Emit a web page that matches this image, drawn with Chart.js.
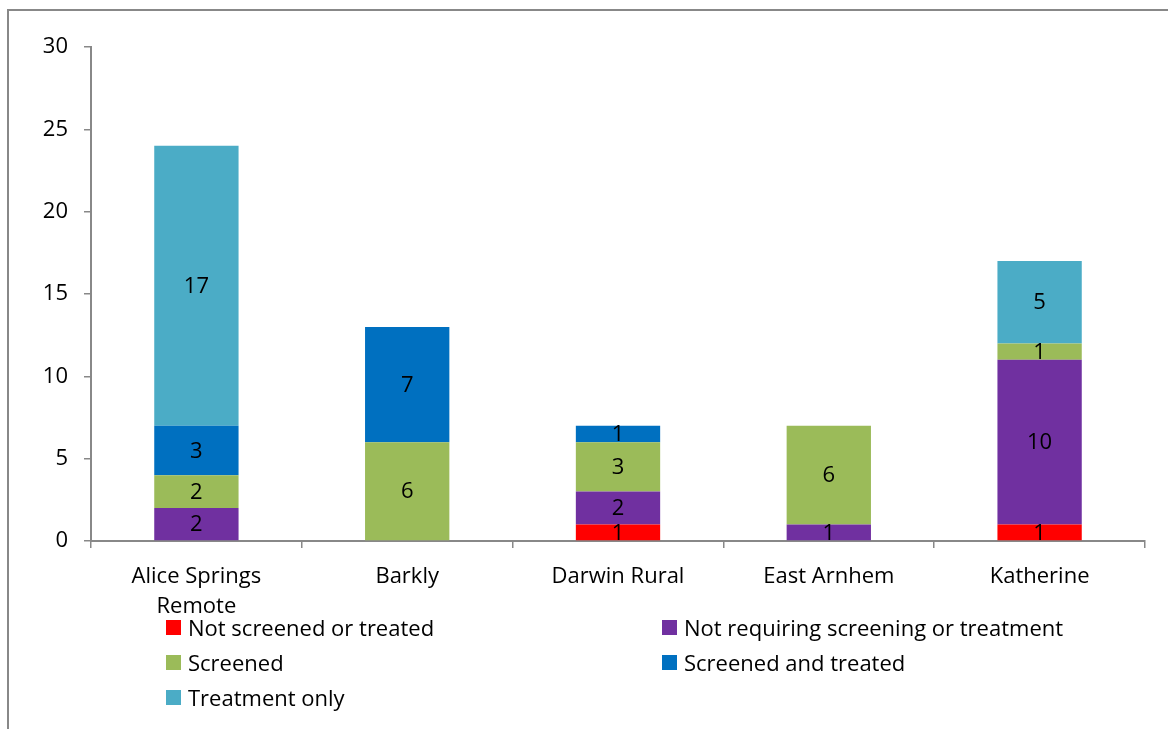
<!DOCTYPE html>
<html>
<head>
<meta charset="utf-8">
<script src="https://cdn.jsdelivr.net/npm/chart.js@4/dist/chart.umd.min.js"></script>
<style>
  html, body { margin: 0; padding: 0; background: #fff; }
  #wrap { position: relative; width: 1168px; height: 729px; }
  #legend { position: absolute; left: 166px; top: 610px; display: grid;
            grid-template-columns: 496px 470px; row-gap: 1px;
            font-family: "Open Sans", sans-serif; font-size: 22px; color: #000; }
  #legend div { display: flex; align-items: center; height: 34px; white-space: nowrap; }
  #legend span.box { width: 15px; height: 15px; margin-right: 7px; display: inline-block; }
</style>
</head>
<body>
<div id="wrap">
  <canvas id="chart" width="1168" height="729"></canvas>
  <div id="legend"></div>
</div>
<script>
const categories = [['Alice Springs', 'Remote'], 'Barkly', 'Darwin Rural', 'East Arnhem', 'Katherine'];

const notScreenedOrTreated = [0, 0, 1, 0, 1];
const notRequiring = [2, 0, 2, 1, 10];
const screened = [2, 6, 3, 6, 1];
const screenedAndTreated = [3, 7, 1, 0, 0];
const treatmentOnly = [17, 0, 0, 0, 5];

const yTicks = [0, 5, 10, 15, 20, 25, 30];

const FONT = '"Open Sans", sans-serif';

// draws the value in the middle of each segment, skipping zeros
const segmentLabels = {
    id: 'segmentLabels',
    afterDatasetsDraw(chart) {
        const ctx = chart.ctx;
        ctx.save();
        ctx.font = '22px ' + FONT;
        ctx.fillStyle = '#000';
        ctx.textAlign = 'center';
        ctx.textBaseline = 'middle';
        chart.data.datasets.forEach((ds, i) => {
            const meta = chart.getDatasetMeta(i);
            meta.data.forEach((bar, j) => {
                const v = ds.data[j];
                if (!v) return;
                const p = bar.getProps(['x', 'y', 'base'], true);
                ctx.fillText(String(v), p.x, (p.y + p.base) / 2 + 1);
            });
        });
        ctx.restore();
    }
};

// outer frame of the chart object (only top and left edges are visible)
const frame = {
    id: 'frame',
    beforeDraw(chart) {
        const ctx = chart.ctx;
        ctx.save();
        ctx.strokeStyle = '#888';
        ctx.lineWidth = 2;
        ctx.beginPath();
        ctx.moveTo(8, 740);
        ctx.lineTo(8, 10);
        ctx.lineTo(1180, 10);
        ctx.stroke();
        ctx.restore();
    }
};

const ctx = document.getElementById('chart').getContext('2d');
const chart = new Chart(ctx, {
    type: 'bar',
    data: {
        labels: categories,
        datasets: [
            { label: 'Not screened or treated', data: notScreenedOrTreated, backgroundColor: '#FF0000' },
            { label: 'Not requiring screening or treatment', data: notRequiring, backgroundColor: '#7030A0' },
            { label: 'Screened', data: screened, backgroundColor: '#9BBB59' },
            { label: 'Screened and treated', data: screenedAndTreated, backgroundColor: '#0070C0' },
            { label: 'Treatment only', data: treatmentOnly, backgroundColor: '#4BACC6' },
        ],
    },
    options: {
        responsive: false,
        animation: false,
        barPercentage: 0.4,
        categoryPercentage: 1,
        layout: { padding: { top: 47, right: 23, bottom: 0, left: 0 } },
        plugins: {
            legend: { display: false },
            tooltip: { enabled: false },
        },
        scales: {
            x: {
                stacked: true,
                afterFit(scale) { scale.height = 188; },
                grid: { display: true, drawOnChartArea: false, offset: true, tickLength: 7, color: '#888', lineWidth: 1.5 },
                border: { color: '#888', width: 2 },
                ticks: { color: '#000', font: { family: FONT, size: 22, lineHeight: 1.36 }, padding: 14, maxRotation: 0 },
            },
            y: {
                stacked: true,
                min: 0,
                max: 30,
                afterFit(scale) { scale.width = 91; },
                afterBuildTicks(scale) { scale.ticks = yTicks.map(v => ({ value: v })); },
                grid: { display: true, drawOnChartArea: false, tickLength: 7, color: '#888', lineWidth: 1.5 },
                border: { color: '#888', width: 2 },
                ticks: { color: '#000', font: { family: FONT, size: 22 }, padding: 16 },
            },
        },
    },
    plugins: [segmentLabels, frame],
});

// legend in two columns, as in the original
const legendEl = document.getElementById('legend');
chart.data.datasets.forEach(ds => {
    const item = document.createElement('div');
    const box = document.createElement('span');
    box.className = 'box';
    box.style.background = ds.backgroundColor;
    item.appendChild(box);
    item.appendChild(document.createTextNode(ds.label));
    legendEl.appendChild(item);
});
</script>
</body>
</html>
